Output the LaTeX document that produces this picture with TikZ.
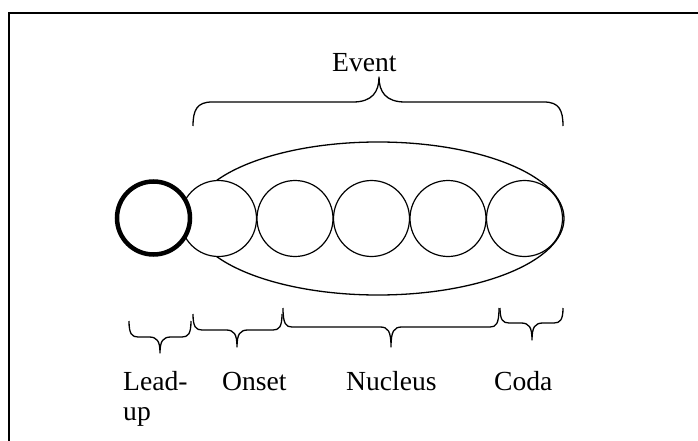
\documentclass[tikz,border=0pt]{standalone}
\usepackage{fontspec}
\setmainfont{Liberation Serif}
\usetikzlibrary{shapes.geometric}

% Curly brace opening upward (tip pointing down):
% #1 left x, #2 right x, #3 tip x, #4 end y, #5 bar y, #6 tip y
\newcommand\bracedn[6]{%
  \draw[bracestroke]
    (#1,#4) .. controls (#1,{#5-3}) and ({#1+3},#5) .. ({#1+9},#5)
    -- ({#3-11},#5) .. controls ({#3-3},#5) and (#3,{#5+4}) .. (#3,#6)
    .. controls (#3,{#5+4}) and ({#3+3},#5) .. ({#3+11},#5)
    -- ({#2-9},#5) .. controls ({#2-3},#5) and (#2,{#5-3}) .. (#2,#4);}

\tikzset{
  bracestroke/.style={line width=1.3pt, line join=round},
  unit/.style={circle, draw, line width=1.2pt, fill=white,
    minimum size=76pt, inner sep=0pt},
  leadunit/.style={circle, draw, line width=4.5pt, fill=white,
    minimum size=73pt, inner sep=0pt},
  envelope/.style={ellipse, draw, line width=1.3pt,
    minimum width=372pt, minimum height=153pt, inner sep=0pt},
  lbl/.style={anchor=base west, inner sep=0pt,
    font=\fontsize{27.6}{30}\selectfont},
}

\begin{document}
\begin{tikzpicture}[x=1pt, y=-1pt]
  \useasboundingbox (0,0) rectangle (698,441);

  % outer frame (left and top edges)
  \draw[line width=1.6pt] (9,441) -- (9,13) -- (698,13);

  % event envelope behind the units
  \node[envelope] (env) at (378,218.5) {};

  % units of the event
  \node[unit] (u1) at (218.5,218.5) {};
  \node[unit] (u2) at (295,218.5) {};
  \node[unit] (u3) at (371.5,218.5) {};
  \node[unit] (u4) at (448,218.5) {};
  \node[unit] (u5) at (524.5,218.5) {};

  % lead-up unit
  \node[leadunit] (lead) at (153.5,218) {};

  % brace over the whole event
  \draw[bracestroke]
    (193,126) .. controls (193,110) and (197,102) .. (212,102)
    -- (353,102) .. controls (372,102) and (379,92) .. (379,77)
    .. controls (379,92) and (386,102) .. (405,102)
    -- (544,102) .. controls (559,102) and (563,110) .. (563,126);
  \node[lbl] (event) at (332,72) {Event};

  % braces under the parts
  \bracedn{129}{191}{160}{321}{337}{353}
  \bracedn{193}{282}{237}{314}{330}{347}
  \bracedn{283}{499}{391}{308}{327}{347}
  \bracedn{500}{563}{532}{308}{323}{340}

  % part labels
  \node[lbl] (leadA) at (123,390) {Lead-};
  \node[lbl] (leadB) at (123,420) {up};
  \node[lbl] (onset) at (222,390) {Onset};
  \node[lbl] (nucleus) at (346,390) {Nucleus};
  \node[lbl] (coda) at (494,390) {Coda};
\end{tikzpicture}
\end{document}
